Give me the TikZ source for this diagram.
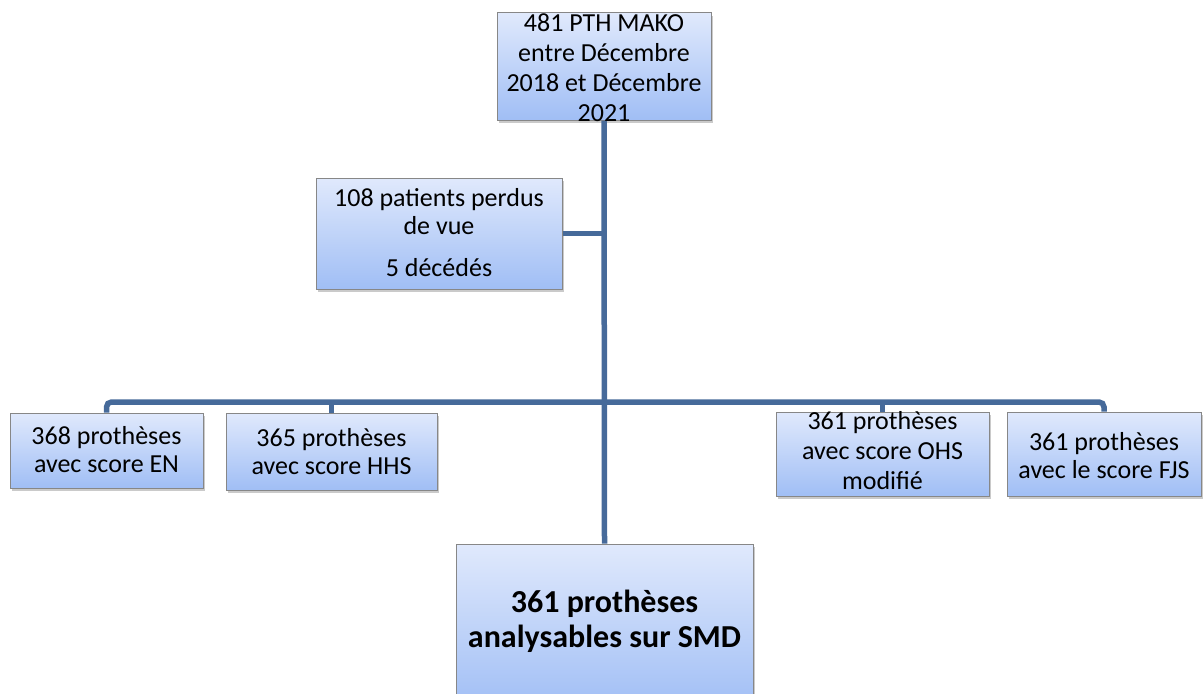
\documentclass[tikz,border=0pt]{standalone}
\usepackage{fontspec}
\setmainfont{Carlito}
\usetikzlibrary{shadows}
\definecolor{conncol}{RGB}{70,106,154}
\definecolor{boxtop}{RGB}{224,233,252}
\definecolor{boxbot}{RGB}{160,190,245}
\definecolor{boxline}{RGB}{135,135,135}
\tikzset{
  box/.style={draw=boxline, line width=1pt, top color=boxtop, bottom color=boxbot, inner sep=0pt,
    drop shadow={shadow xshift=2pt, shadow yshift=-3pt, opacity=0.35, fill=black!60}},
  txt/.style={align=center, font=\fontsize{26}{28}\selectfont, inner sep=0pt},
  conn/.style={draw=conncol, line width=5.5pt},
}
\begin{document}
\begin{tikzpicture}[x=1pt, y=-1pt]
\useasboundingbox (0,0) rectangle (1204,693);
\clip (0,0) rectangle (1204,693);
% boxes
\node[box, minimum width=214, minimum height=107] (top) at (604,66.5) {};
\node[box, minimum width=246, minimum height=111] (lost) at (439,233.5) {};
\node[box, minimum width=193, minimum height=75] (en) at (106.5,450.5) {};
\node[box, minimum width=211, minimum height=77] (hhs) at (331.5,451.5) {};
\node[box, minimum width=213, minimum height=84] (ohs) at (882.5,454) {};
\node[box, minimum width=194, minimum height=84] (fjs) at (1104,454) {};
\node[box, minimum width=297, minimum height=166] (smd) at (604.5,627) {};
% connectors
\coordinate (bar) at (604,402);
\draw[conn] (top.south) -- (smd.north);
\draw[conn] (lost.east) -- (lost.east -| top.south);
\draw[conn, rounded corners=5pt] (en.north) |- (bar) -| (fjs.north);
\draw[conn] (hhs.north) -- (hhs.north |- bar);
\draw[conn] (ohs.north) -- (ohs.north |- bar);
% texts
\node[txt, font=\fontsize{26}{30}\selectfont] (topt) at (604,68) {481 PTH MAKO\\entre Décembre\\2018 et Décembre\\2021};
\node[txt] (lostt) at (439,233) {108 patients perdus\\de vue\\[14pt]5 décédés};
\node[txt] (ent) at (106.5,450) {368 prothèses\\avec score EN};
\node[txt] (hhst) at (331.5,452) {365 prothèses\\avec score HHS};
\node[txt, font=\fontsize{26}{30}\selectfont] (ohst) at (882.5,451) {361 prothèses\\avec score OHS\\modifié};
\node[txt] (fjst) at (1104,456) {361 prothèses\\avec le score FJS};
\node[txt, font=\bfseries\fontsize{32}{35}\selectfont] (smdt) at (604.5,621.5) {361 prothèses\\analysables sur SMD};
\end{tikzpicture}
\end{document}
